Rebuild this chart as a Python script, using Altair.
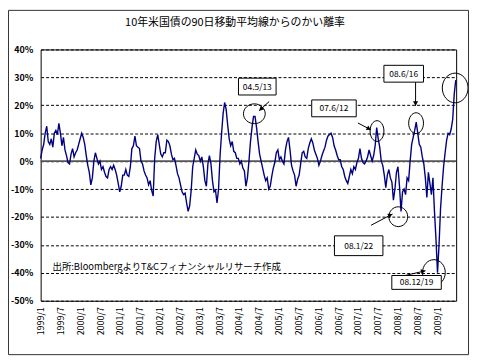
import math
import altair as alt
import pandas as pd

FONT = "Noto Sans CJK JP"

# ---- data: deviation (%) of US 10y yield from its 90-day moving average, 2-week steps from 1999-01-01
values = [
    1, 4, 6, 10, 12.5, 7, 6, 8, 5, 10,
    11, 9.5, 13.5, 10, 5.5, 8.5, 4, 2, -0.5, -1,
    2.5, 4.5, 1.5, 3, 4, 6, 8, 10, 8.5, 6,
    2, -1.5, -4, -8.5, -6, 0, 3, 1, -1, 0,
    -3, -2, -4, -5.5, -6, -3, -2, -3, -1.5, -3,
    -5, -8, -11, -9, -5, -5, -3, -5, -5.5, -2,
    4.5, 5.5, 9, 5.5, 5, 4.5, 0, -1, -3.5, -5,
    -6, -8.5, -7, -10.5, -12.5, 1, 7, 9.5, 6, 2.5,
    1.5, 3, 3, 7.5, 7, 5.5, 2.5, 0.5, 1, -1.5,
    -4.5, -6, -8.5, -11, -12, -11.5, -15, -18, -16, -10.5,
    -2, 1, 4, 2.5, 2, 0, 1.5, -2, -7, -9,
    -1, 2, -1, -7, -11, -10.5, -15, -10, 2, 10,
    17, 21, 18.5, 13, 8, 5.5, 7, 3.5, 3, 1,
    1, -1, 0, -2.5, -3.5, -9, -6, 0, 7, 12,
    16, 16, 12, 7, 2.5, 0, -2.5, -5, -7, -6,
    -10, -9, -5.5, -2.5, -0.5, 3, 4, 0.5, 1.5, 0,
    -1, 4, 7, 8.5, 4, -1.5, -3.5, -5, -9, -6.5,
    -5, -1, 3, 3.5, 1.5, 1, 4.5, 6.5, 8, 6.5,
    4, 2.5, 1, -1.5, 0, 2, 3.5, 5, 7.5, 9,
    9.5, 10, 8.5, 5.5, 4, 2, 0.5, 0.5, -2, -3,
    -5.5, -7, -8, -5.5, -3, -4.5, -2, -3, -0.5, 1,
    4.5, 1, -0.5, -1, 0, 1.5, 4, 2, 0, 2,
    5.5, 12, 8, 5, 0, -1.5, -5, -9.5, -5, -3,
    -6, -7.5, -14, -10, -4, -2, -9, -18, -11, -10,
    -12, -6, -7, 0, 6, 8.5, 11, 14, 10, 6,
    5, 1.5, -1, -6, -13, -4, -8, -12, -6, -18,
    -28, -40, -30, -17, -9, -2, 3, 7.5, 10, 9.5,
    11.5, 15, 24, 29,
]
dates = pd.date_range("1999-01-01", periods=len(values), freq="14D")
years = 1999 + (dates - pd.Timestamp("1999-01-01")).days / 365.25

tick_years = [1999 + 0.5 * i for i in range(21)]
y_ticks = [-50, -40, -30, -20, -10, 0, 10, 20, 30, 40]

TITLE = "10年米国債の90日移動平均線からのかい離率"
SOURCE = "出所:BloombergよりT&Cフィナンシャルリサーチ作成"

# annotation boxes (centre in data units)
ann_labels = ["04.5/13", "07.6/12", "08.6/16", "08.1/22", "08.12/19"]
ann_year = [2004.461, 2006.394, 2008.152, 2007.017, 2008.476]
ann_value = [26.7, 18.9, 31.3, -30.3, -43.45]

# ellipses (centre in data units)
ell_year = [2004.387, 2007.479, 2008.464, 2009.449, 2008.015, 2008.913]
ell_value = [16.97, 10.77, 13.6, 26.2, -19.9, -39.9]

# arrows
arr_year_from = [2004.761, 2006.997, 2008.451, 2007.329, 2008.077]
arr_val_from = [21.33, 13.67, 28.31, -22.97, -41.33]
arr_year_to = [2004.504, 2007.329, 2008.451, 2007.870, 2008.701]
arr_val_to = [18.03, 11.19, 19.8, -18.93, -39.27]

src_year, src_value = 1999.299, -38.07

# ---- layout / style constants
W, H = 420, 254
X_MIN, X_MAX = 1999, 2009.474
Y_MIN, Y_MAX = -50, 40
PXY = W / (X_MAX - X_MIN)
PXV = H / (Y_MAX - Y_MIN)
box_w = [38, 45, 40, 49, 50]
box_h = [17, 17, 17, 20, 14]
ell_rx = [11, 7, 7.5, 13, 9.5, 11.5]
ell_ry = [10, 10.5, 10.5, 15, 10, 13]

xscale = alt.Scale(domain=[X_MIN, X_MAX], nice=False, zero=False)
yscale = alt.Scale(domain=[Y_MIN, Y_MAX], nice=False, zero=False)
xaxis = alt.Axis(
    values=tick_years,
    labelExpr="floor(datum.value) + '/' + ((datum.value - floor(datum.value)) > 0.25 ? '7' : '1')",
    labelAngle=-90, labelFont=FONT, labelFontSize=9, labelColor="black",
    ticks=False, domain=False, grid=False, labelPadding=6, title=None,
    labelFlush=False, labelOverlap=False,
)
yaxis = alt.Axis(
    values=y_ticks, labelExpr="datum.value + '%'",
    labelFont=FONT, labelFontSize=9, labelColor="black", labelFontWeight="bold",
    ticks=False, domain=False, grid=True, gridDash=[3, 2], gridColor="black",
    gridWidth=1, gridOpacity=1, labelPadding=8, title=None,
    labelFlush=False, labelOverlap=False,
)


def X(f):
    return alt.X(f, type="quantitative", scale=xscale, axis=xaxis)


def Y(f):
    return alt.Y(f, type="quantitative", scale=yscale, axis=yaxis)


line_df = pd.DataFrame({"year": years, "value": values})
line = alt.Chart(line_df).mark_line(color="#000080", strokeWidth=1.4).encode(
    x=X("year"), y=Y("value")
)

zero = alt.Chart(pd.DataFrame({"v": [0]})).mark_rule(color="#555555", strokeWidth=1.8).encode(
    y=Y("v")
)

# ellipses as custom symbol paths
ell_paths, ell_sizes = [], []
for rx, ry in zip(ell_rx, ell_ry):
    a = rx / ry
    ell_paths.append(f"M{-a:.3f},0A{a:.3f},1 0 1,0 {a:.3f},0A{a:.3f},1 0 1,0 {-a:.3f},0Z")
    ell_sizes.append((2 * ry) ** 2)
ell_df = pd.DataFrame({"year": ell_year, "value": ell_value, "path": ell_paths, "size": ell_sizes})
ellipses = alt.Chart(ell_df).mark_point(filled=False, color="black", strokeWidth=1, opacity=1).encode(
    x=X("year"), y=Y("value"),
    shape=alt.Shape("path:N", scale=None, legend=None),
    size=alt.Size("size:Q", scale=None, legend=None),
)

# arrows
heads = []
for x1, v1, x2, v2 in zip(arr_year_from, arr_val_from, arr_year_to, arr_val_to):
    dx = (x2 - x1) * PXY
    dy = -(v2 - v1) * PXV
    L = math.hypot(dx, dy)
    ux, uy = dx / L, dy / L
    ang = math.degrees(math.atan2(ux, -uy)) % 360
    heads.append({"year": x2 - 2.4 * ux / PXY, "value": v2 + 2.4 * uy / PXV, "angle": ang})
arr_df = pd.DataFrame({"y1": arr_year_from, "v1": arr_val_from, "y2": arr_year_to, "v2": arr_val_to})
arrows = alt.Chart(arr_df).mark_rule(color="black", strokeWidth=1).encode(
    x=X("y1"), y=Y("v1"), x2="y2", y2="v2"
)
head_df = pd.DataFrame(heads)
arrowheads = alt.Chart(head_df).mark_point(shape="triangle-up", filled=True, color="black", size=26, opacity=1).encode(
    x=X("year"), y=Y("value"), angle=alt.Angle("angle:Q", scale=None)
)

# boxes
box_df = pd.DataFrame({
    "label": ann_labels,
    "year": ann_year,
    "value": ann_value,
    "x1": [yv - w / 2 / PXY for yv, w in zip(ann_year, box_w)],
    "x2": [yv + w / 2 / PXY for yv, w in zip(ann_year, box_w)],
    "v1": [vv - h / 2 / PXV for vv, h in zip(ann_value, box_h)],
    "v2": [vv + h / 2 / PXV for vv, h in zip(ann_value, box_h)],
})
boxes = alt.Chart(box_df).mark_rect(fill="white", stroke="black", strokeWidth=1).encode(
    x=X("x1"), x2="x2", y=Y("v1"), y2="v2"
)
box_text = alt.Chart(box_df).mark_text(font=FONT, fontSize=8.5, color="black", baseline="middle", align="center").encode(
    x=X("year"), y=Y("value"), text="label:N"
)

source = alt.Chart(pd.DataFrame({"year": [src_year], "value": [src_value], "t": [SOURCE]})).mark_text(
    font=FONT, fontSize=9.5, color="black", align="left", baseline="middle"
).encode(x=X("year"), y=Y("value"), text="t:N")

one = pd.DataFrame({"t": [TITLE]})
title = alt.Chart(one).mark_text(font=FONT, fontSize=11, color="black", align="center", baseline="middle").encode(
    x=alt.value(196.5), y=alt.value(-26.3), text="t:N"
)
border = alt.Chart(one).mark_rect(fillOpacity=0, stroke="#333333", strokeWidth=1).encode(
    x=alt.value(-32.5), x2=alt.value(432.5), y=alt.value(-39.5), y2=alt.value(308.5)
)

chart = alt.layer(
    zero, line, ellipses, arrows, arrowheads, boxes, box_text, source, title, border
).properties(
    width=W, height=H,
    autosize=alt.AutoSizeParams(type="none"),
    padding={"left": 33, "top": 40, "right": 14, "bottom": 56},
    background="white",
).configure_view(stroke="black", strokeWidth=1)

chart.save("out.html", embed_options={"renderer": "svg", "actions": False})
